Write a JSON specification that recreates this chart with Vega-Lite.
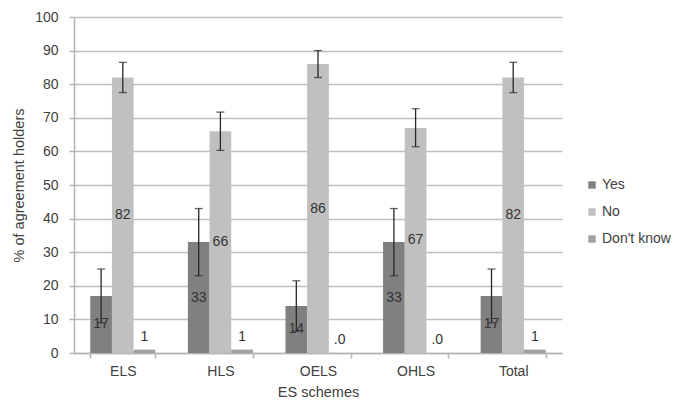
{
  "$schema": "https://vega.github.io/schema/vega-lite/v6.json",
  "width": 488,
  "height": 336,
  "autosize": {"type": "none"},
  "padding": {"left": 74, "top": 17, "right": 111, "bottom": 48},
  "background": "white",
  "config": {
    "font": "Liberation Sans",
    "view": {"stroke": null},
    "axis": {
      "labelFont": "Liberation Sans",
      "titleFont": "Liberation Sans",
      "labelFontSize": 14,
      "titleFontSize": 14.5,
      "labelColor": "#404040",
      "titleColor": "#404040",
      "titleFontWeight": "normal",
      "domain": true,
      "ticks": true,
      "domainColor": "#b3b3b3",
      "tickColor": "#b3b3b3",
      "gridColor": "#bfbfbf",
      "domainWidth": 1.5,
      "tickWidth": 1.5,
      "gridWidth": 1.5
    },
    "axisY": {
      "title": "% of agreement holders",
      "values": [0, 10, 20, 30, 40, 50, 60, 70, 80, 90, 100],
      "tickSize": 5,
      "labelPadding": 11,
      "titlePadding": 8,
      "grid": true
    },
    "legend": {
      "labelFont": "Liberation Sans",
      "labelFontSize": 14,
      "labelColor": "#404040"
    }
  },
  "data": {
    "values": [
      {"scheme": "ELS", "answer": "Yes", "value": 17, "label": "17", "lo": 9, "hi": 25},
      {"scheme": "ELS", "answer": "No", "value": 82, "label": "82", "lo": 77.5, "hi": 86.5},
      {"scheme": "ELS", "answer": "Don't know", "value": 1, "label": "1", "lo": null, "hi": null},
      {"scheme": "HLS", "answer": "Yes", "value": 33, "label": "33", "lo": 23, "hi": 43},
      {"scheme": "HLS", "answer": "No", "value": 66, "label": "66", "lo": 60.3, "hi": 71.7},
      {"scheme": "HLS", "answer": "Don't know", "value": 1, "label": "1", "lo": null, "hi": null},
      {"scheme": "OELS", "answer": "Yes", "value": 14, "label": "14", "lo": 6.5, "hi": 21.5},
      {"scheme": "OELS", "answer": "No", "value": 86, "label": "86", "lo": 82, "hi": 90},
      {"scheme": "OELS", "answer": "Don't know", "value": 0, "label": ".0", "lo": null, "hi": null},
      {"scheme": "OHLS", "answer": "Yes", "value": 33, "label": "33", "lo": 23, "hi": 43},
      {"scheme": "OHLS", "answer": "No", "value": 67, "label": "67", "lo": 61.4, "hi": 72.7},
      {"scheme": "OHLS", "answer": "Don't know", "value": 0, "label": ".0", "lo": null, "hi": null},
      {"scheme": "Total", "answer": "Yes", "value": 17, "label": "17", "lo": 9, "hi": 25},
      {"scheme": "Total", "answer": "No", "value": 82, "label": "82", "lo": 77.5, "hi": 86.5},
      {"scheme": "Total", "answer": "Don't know", "value": 1, "label": "1", "lo": null, "hi": null}
    ]
  },
  "encoding": {
    "x": {
      "field": "scheme",
      "type": "nominal",
      "sort": ["ELS", "HLS", "OELS", "OHLS", "Total"],
      "scale": {"paddingInner": 0.3333, "paddingOuter": 0.1667},
      "axis": {
        "title": "ES schemes",
        "labelAngle": 0,
        "domain": true,
        "ticks": true,
        "tickBand": "extent",
        "tickSize": 5,
        "labelPadding": 6,
        "titlePadding": 7
      }
    },
    "xOffset": {
      "field": "answer",
      "type": "nominal",
      "sort": ["Yes", "No", "Don't know"],
      "scale": {"paddingInner": 0, "paddingOuter": 0}
    }
  },
  "layer": [
    {
      "layer": [
        {
          "mark": {"type": "bar"},
          "encoding": {
            "y": {
              "field": "value",
              "type": "quantitative",
              "scale": {"domain": [0, 100]},
              "title": "% of agreement holders"
            },
            "color": {
              "field": "answer",
              "type": "nominal",
              "sort": ["Yes", "No", "Don't know"],
              "scale": {"domain": ["Yes", "No", "Don't know"], "range": ["#808080", "#c0c0c0", "#a0a0a0"]},
              "legend": {
                "title": null,
                "orient": "none",
                "legendX": 511,
                "legendY": 161,
                "symbolType": "square",
                "symbolSize": 55,
                "symbolStrokeWidth": 0,
                "labelOffset": 3,
                "rowPadding": 13
              }
            }
          }
        },
        {
          "transform": [{"filter": "datum.lo != null"}],
          "mark": {"type": "rule", "color": "#262626", "strokeWidth": 1.3},
          "encoding": {
            "y": {"field": "lo", "type": "quantitative", "title": "% of agreement holders"},
            "y2": {"field": "hi"}
          }
        },
        {
          "transform": [{"filter": "datum.lo != null"}],
          "mark": {"type": "tick", "color": "#262626", "size": 8, "thickness": 1.3, "orient": "horizontal"},
          "encoding": {
            "y": {"field": "hi", "type": "quantitative", "title": "% of agreement holders"}
          }
        },
        {
          "transform": [{"filter": "datum.lo != null"}],
          "mark": {"type": "tick", "color": "#262626", "size": 8, "thickness": 1.3, "orient": "horizontal"},
          "encoding": {
            "y": {"field": "lo", "type": "quantitative", "title": "% of agreement holders"}
          }
        },
        {
          "transform": [{"filter": "datum.answer == \"Don't know\""}],
          "mark": {"type": "text", "fontSize": 14, "color": "#333333", "baseline": "middle", "dy": -13, "font": "Liberation Sans"},
          "encoding": {
            "y": {"field": "value", "type": "quantitative", "title": "% of agreement holders"},
            "text": {"field": "label"}
          }
        }
      ]
    },
    {
      "transform": [{"filter": "datum.answer != \"Don't know\""}],
      "mark": {"type": "text", "fontSize": 14, "color": "#333333", "baseline": "middle", "font": "Liberation Sans"},
      "encoding": {
        "y": {"field": "value", "type": "quantitative", "scale": {"domain": [0, 200]}, "axis": null},
        "text": {"field": "label"}
      }
    }
  ],
  "resolve": {"scale": {"y": "independent"}}
}
